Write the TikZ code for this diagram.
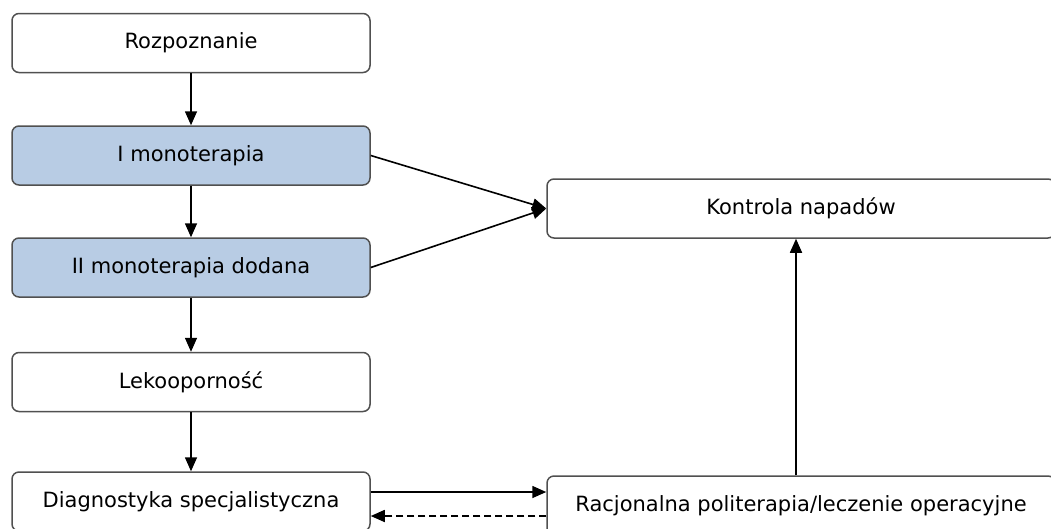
\documentclass[tikz,border=0pt]{standalone}
\usepackage{fontspec}
\setmainfont{DejaVu Sans}
\usetikzlibrary{arrows.meta}
\definecolor{boxline}{HTML}{505050}
\definecolor{monofill}{HTML}{B8CCE4}
\tikzset{
    stage/.style={draw=boxline, line width=1.5pt, rounded corners=7pt, fill=white,
        minimum width=358pt, minimum height=59pt, inner sep=0pt,
        font=\fontsize{21}{24}\selectfont},
    mono/.style={stage, fill=monofill},
    wide/.style={stage, minimum width=508pt},
    arr/.style={-{Triangle[length=14pt,width=12pt]}, line width=1.6pt},
}

\begin{document}
\begin{tikzpicture}[x=1pt, y=-1pt]
    % Frame of the picture
    \useasboundingbox (0,0) rectangle (1051,528);
    \clip (0,0) rectangle (1051,528);

    % Left column
    \node[stage] (rozp) at (191,43) {Rozpoznanie};
    \node[mono] (mono1) at (191,155.5) {I monoterapia};
    \node[mono] (mono2) at (191,267.5) {II monoterapia dodana};
    \node[stage] (leko) at (191,382) {Lekooporność};
    \node[stage] (diag) at (191,501.5) {Diagnostyka specjalistyczna};

    % Right column
    \node[wide] (kontr) at (801,208.5) {Kontrola napadów};
    \node[wide] (racj) at (801,505.5) {Racjonalna politerapia/leczenie operacyjne};

    % Downward steps
    \draw[arr] (rozp) -- (mono1);
    \draw[arr] (mono1) -- (mono2);
    \draw[arr] (mono2) -- (leko);
    \draw[arr] (leko) -- (diag);

    % Into seizure control
    \draw[arr] (mono1.east) -- (kontr.west);
    \draw[arr] (mono2.east) -- (kontr.west);
    \draw[arr] ([xshift=-5pt]racj.north) -- ([xshift=-5pt]kontr.south);

    % Between diagnostics and treatment
    \draw[arr] ([yshift=9.5pt]diag.east) -- ([yshift=9.5pt]diag.east -| racj.west);
    \draw[arr, dash pattern=on 7pt off 4pt] ([yshift=-14.5pt]diag.east -| racj.west) -- ([yshift=-14.5pt]diag.east);
\end{tikzpicture}
\end{document}
